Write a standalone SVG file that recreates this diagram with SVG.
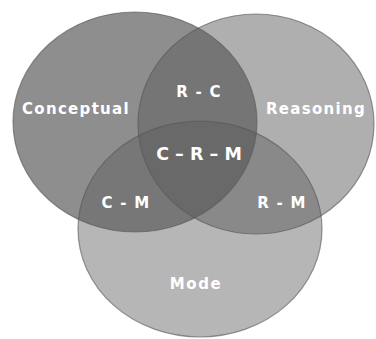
<svg xmlns="http://www.w3.org/2000/svg" width="376" height="339" viewBox="0 0 376 339">
<style>
.set{stroke:#555555;stroke-width:1.2;stroke-opacity:0.6;fill:#5a5a5a}
.lbl{font-family:"DejaVu Sans",Verdana,sans-serif;font-weight:bold;fill:#ffffff;text-anchor:middle;font-size:15px;letter-spacing:1.3px}
</style>
<rect width="376" height="339" fill="#ffffff"/>
<g id="conceptual">
<ellipse class="set" cx="135" cy="122" rx="122" ry="110" fill-opacity="0.685"/>
</g>
<g id="reasoning">
<ellipse class="set" cx="256" cy="124" rx="118" ry="110" fill-opacity="0.485"/>
</g>
<g id="mode">
<ellipse class="set" cx="200" cy="229" rx="122" ry="108" fill-opacity="0.442"/>
</g>
<g id="labels">
<text class="lbl" x="76" y="114">Conceptual</text>
<text class="lbl" x="316" y="114">Reasoning</text>
<text class="lbl" x="199" y="97">R - C</text>
<text class="lbl" x="199" y="160" style="font-size:17.5px;letter-spacing:0">C – R – M</text>
<text class="lbl" x="126" y="208">C - M</text>
<text class="lbl" x="282" y="208">R - M</text>
<text class="lbl" x="196" y="289" style="letter-spacing:1.6px">Mode</text>
</g>
</svg>
